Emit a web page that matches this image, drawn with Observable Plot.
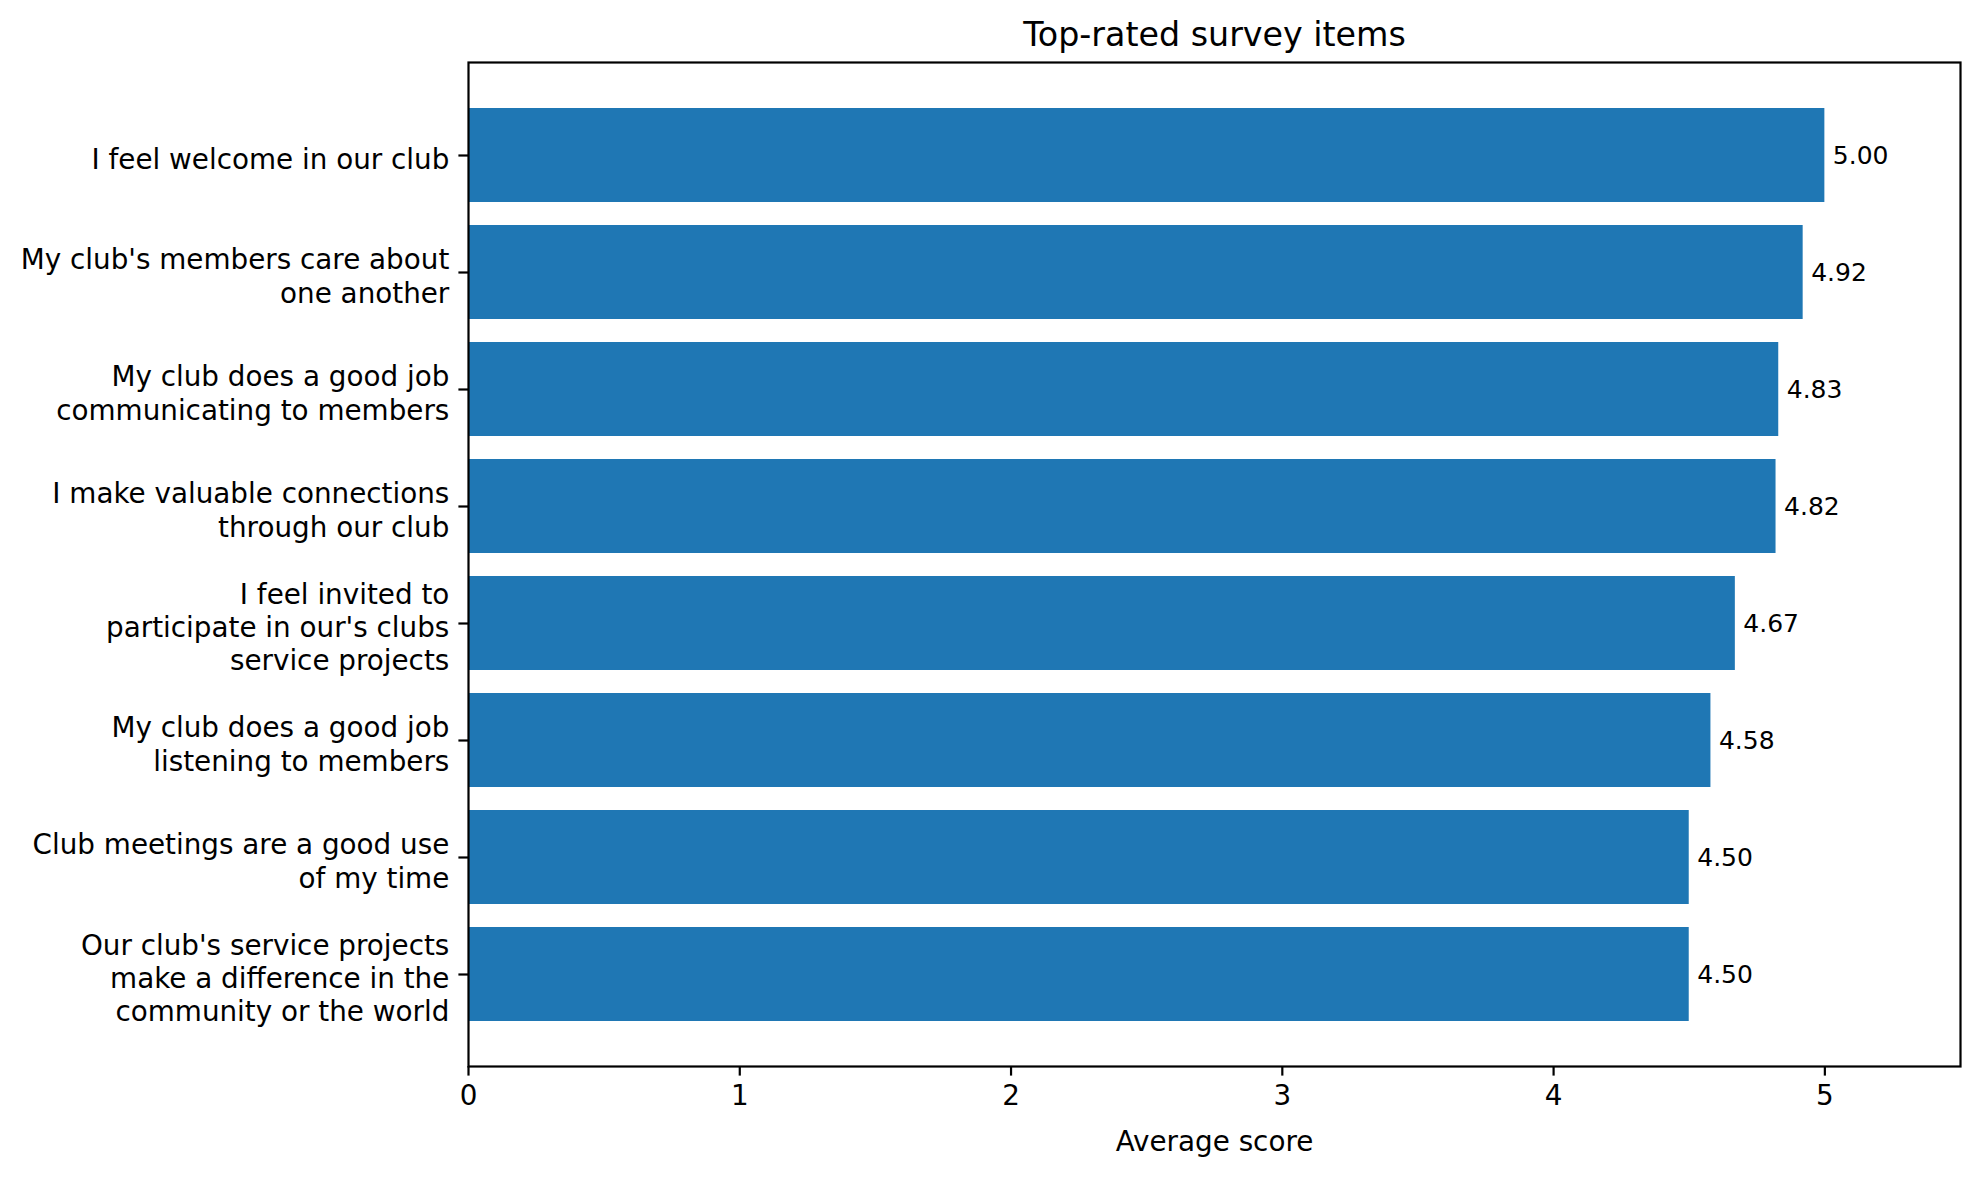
<!DOCTYPE html>
<html>
<head>
<meta charset="utf-8">
<script src="https://cdn.jsdelivr.net/npm/d3@7"></script>
<script src="https://cdn.jsdelivr.net/npm/@observablehq/plot@0.6"></script>
<style>
  html, body { margin: 0; padding: 0; background: white; }
  svg { display: block; }
</style>
</head>
<body>
<div id="chart"></div>
<script>
const items = [
  "I feel welcome in our club",
  "My club's members care about\none another",
  "My club does a good job\ncommunicating to members",
  "I make valuable connections\nthrough our club",
  "I feel invited to\nparticipate in our's clubs\nservice projects",
  "My club does a good job\nlistening to members",
  "Club meetings are a good use\nof my time",
  "Our club's service projects\nmake a difference in the\ncommunity or the world"
];
const scores = [5.00, 4.92, 4.83, 4.82, 4.67, 4.58, 4.50, 4.50];
const xTicks = [0, 1, 2, 3, 4, 5];
const titleText = "Top-rated survey items";
const xLabel = "Average score";

const data = items.map((item, i) => ({item, score: scores[i]}));

const chart = Plot.plot({
  width: 1979,
  height: 1177,
  marginLeft: 468,
  marginRight: 19,
  marginTop: 62,
  marginBottom: 111,
  style: {fontFamily: "DejaVu Sans", fontSize: "27.8px", background: "white", color: "black"},
  x: {domain: [0, 5.5]},
  y: {domain: items, paddingInner: 0.2, paddingOuter: 0.39, align: 0.5},
  marks: [
    Plot.barX(data, {x: "score", y: "item", fill: "#1f77b4"}),
    Plot.text(data, {x: "score", y: "item", text: d => d.score.toFixed(2), dx: 8, textAnchor: "start", fontSize: 25, fill: "black"}),
    Plot.frame({stroke: "black", strokeWidth: 2.2}),
    Plot.axisX({ticks: xTicks, tickFormat: d => String(d), tickSize: 9.6, tickPadding: 9.6, strokeWidth: 2.2, fontSize: 27.8, label: null}),
    Plot.axisY({tickSize: 9.6, tickPadding: 9.6, strokeWidth: 2.2, fontSize: 27.8, lineHeight: 1.2, label: null, tickFormat: d => d}),
    Plot.text([titleText], {frameAnchor: "top", dy: -27, text: d => d, fontSize: 33.3, lineAnchor: "middle", fill: "black"}),
    Plot.text([xLabel], {frameAnchor: "bottom", dy: 76, text: d => d, fontSize: 27.8, lineAnchor: "middle", fill: "black"})
  ]
});
// shift y tick labels slightly down to match the reference's vertical centering
d3.select(chart).selectAll("g[aria-label='y-axis tick label'] text").attr("dy", "0.1em");
document.getElementById("chart").appendChild(chart);
</script>
</body>
</html>
